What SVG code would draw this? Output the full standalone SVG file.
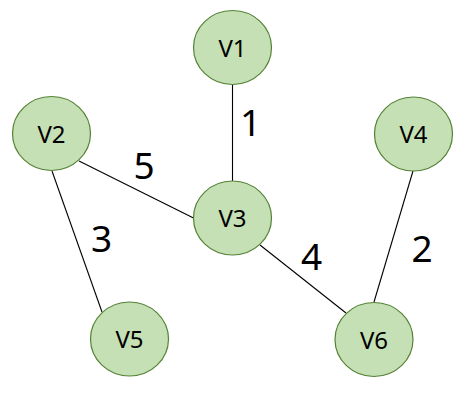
<svg xmlns="http://www.w3.org/2000/svg" width="475" height="403" viewBox="0 0 475 403">
<style>
.node ellipse{fill:#C5E0B4;stroke:#548235;stroke-width:1.2}
.node text{font-family:"Noto Sans","Open Sans",sans-serif;font-size:24px;fill:#000;text-anchor:middle}
.edges line{stroke:#000;stroke-width:1.1}
.w{font-family:"Noto Sans","Open Sans",sans-serif;font-size:37px;fill:#000;text-anchor:middle}
</style>
<rect width="475" height="403" fill="#fff"/>
<g id="connectors" class="edges">
<line x1="232.5" y1="84" x2="232.5" y2="181"/>
<line x1="79" y1="161" x2="193.5" y2="218"/>
<line x1="52" y1="171" x2="102" y2="312"/>
<line x1="260" y1="245" x2="346" y2="313"/>
<line x1="413" y1="171" x2="374" y2="302"/>
<text class="w" x="250.5" y="136">1</text>
<text class="w" x="144" y="179">5</text>
<text class="w" x="101.5" y="252">3</text>
<text class="w" x="311.5" y="270">4</text>
<text class="w" x="422" y="262">2</text>
</g>
<g id="V1" class="node"><ellipse cx="232.5" cy="47.5" rx="39" ry="37"/><text x="232.5" y="56.5">V1</text></g>
<g id="V2" class="node"><ellipse cx="51.5" cy="133.5" rx="39" ry="37"/><text x="51.5" y="142.5">V2</text></g>
<g id="V3" class="node"><ellipse cx="232.5" cy="218" rx="39" ry="37"/><text x="232.5" y="227">V3</text></g>
<g id="V4" class="node"><ellipse cx="413.5" cy="134" rx="39" ry="37"/><text x="413.5" y="143">V4</text></g>
<g id="V5" class="node"><ellipse cx="129.5" cy="339" rx="39" ry="37"/><text x="129.5" y="348">V5</text></g>
<g id="V6" class="node"><ellipse cx="374" cy="339.5" rx="39" ry="37"/><text x="374" y="348.5">V6</text></g>
</svg>
